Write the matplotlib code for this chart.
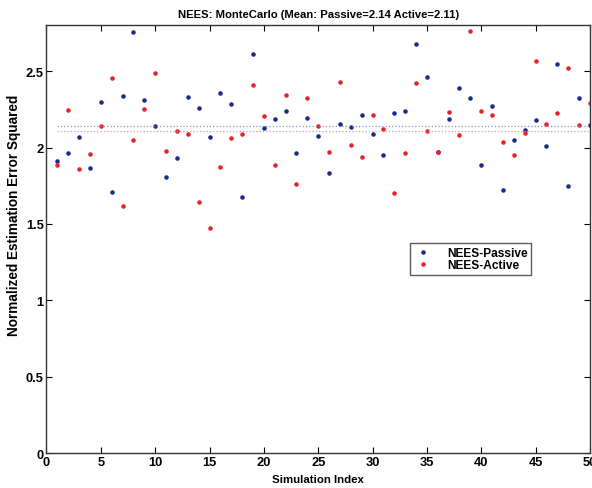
import matplotlib
matplotlib.use('Agg')
from matplotlib import pyplot as plt
import numpy as np

plt.rcParams['font.family'] = ['Liberation Sans', 'DejaVu Sans']
plt.rcParams['font.weight'] = 'bold'

# simulation index 1..50
sim_idx = list(range(1, 51))

nees_passive = [1.913, 1.961, 2.067, 1.867, 2.296, 1.707, 2.337, 2.754, 2.309, 2.143,
                1.804, 1.930, 2.333, 2.261, 2.067, 2.357, 2.283, 1.676, 2.609, 2.126,
                2.185, 2.239, 1.961, 2.193, 2.074, 1.833, 2.152, 2.137, 2.211, 2.091,
                1.948, 2.224, 2.241, 2.678, 2.461, 1.970, 2.185, 2.391, 2.326, 1.885,
                2.272, 1.720, 2.048, 2.113, 2.178, 2.011, 2.546, 1.750, 2.322, 2.150]

nees_active = [1.885, 2.248, 1.857, 1.957, 2.139, 2.457, 1.615, 2.050, 2.252, 2.489,
               1.976, 2.107, 2.087, 1.641, 1.474, 1.870, 2.059, 2.091, 2.407, 2.207,
               1.885, 2.346, 1.763, 2.322, 2.143, 1.970, 2.430, 2.017, 1.935, 2.211,
               2.122, 1.702, 1.965, 2.420, 2.107, 1.972, 2.233, 2.083, 2.761, 2.237,
               2.215, 2.035, 1.950, 2.098, 2.567, 2.152, 2.228, 2.517, 2.150, 2.293]

mean_passive = 2.14
mean_active = 2.11

x_ticks = list(range(0, 51, 5))
y_ticks = [0, 0.5, 1, 1.5, 2, 2.5]

fig = plt.figure(figsize=(5.92, 4.89), dpi=100)
ax = fig.add_axes([0.0785, 0.0706, 0.918, 0.876])

blue = '#1a2a8c'
red = '#e8202a'

ax.plot(sim_idx, nees_passive, '.', color=blue, markersize=4.5, label='NEES-Passive')
ax.plot(sim_idx, nees_active, '.', color=red, markersize=4.5, label='NEES-Active')

# mean lines
ax.plot([sim_idx[0], sim_idx[-1]], [mean_passive] * 2, ':', color='#8a90c0', lw=0.9)
ax.plot([sim_idx[0], sim_idx[-1]], [mean_active] * 2, ':', color='#d89aa0', lw=0.9)

ax.set_xlim(0, 50)
ax.set_ylim(0, 2.8)
ax.set_xticks(x_ticks)
ax.set_yticks(y_ticks)
ax.set_yticklabels(['0', '0.5', '1', '1.5', '2', '2.5'])
ax.tick_params(direction='in', top=True, right=True, length=4, labelsize=9.3, pad=2)
for s in ax.spines.values():
    s.set_linewidth(1.0)
    s.set_color('#333333')

ax.set_title('NEES: MonteCarlo (Mean: Passive=2.14 Active=2.11)',
             fontsize=8.1, fontweight='bold', pad=6)
ax.set_xlabel('Simulation Index', fontsize=8.2, fontweight='bold', labelpad=4)
ax.set_ylabel('Normalized Estimation Error Squared', fontsize=9.8, fontweight='bold')
ax.yaxis.set_label_coords(-0.046, 0.558)

leg = ax.legend(loc='upper left', bbox_to_anchor=(0.658, 0.505), fontsize=8.6,
                frameon=True, fancybox=False, edgecolor='#333333',
                handlelength=1.6, handletextpad=1.2, borderpad=0.3,
                labelspacing=0.05, markerscale=1.0)
leg.get_frame().set_linewidth(1.0)

fig.savefig('out.png', dpi=100)
